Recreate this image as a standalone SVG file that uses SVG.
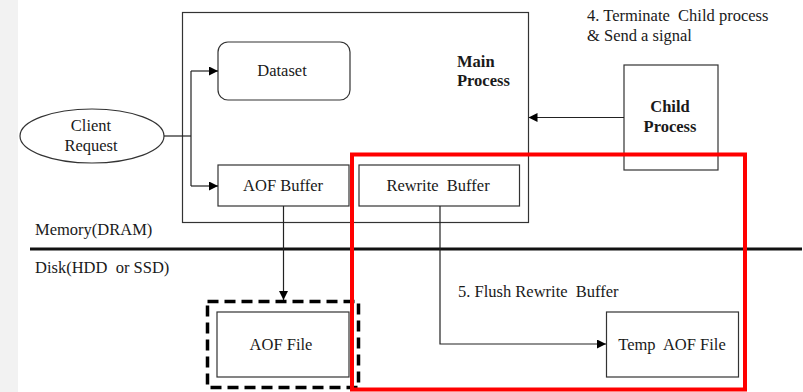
<svg xmlns="http://www.w3.org/2000/svg" width="803" height="392" viewBox="0 0 803 392">
  <defs>
    <marker id="arrow" viewBox="0 0 10 10" refX="10" refY="5" markerWidth="9" markerHeight="9" markerUnits="userSpaceOnUse" orient="auto">
      <path d="M0,0 L10,5 L0,10 z" fill="#000"/>
    </marker>
    <style>
      .box { fill: #fff; stroke: #333; stroke-width: 1.2; }
      .txt { font-family: "Liberation Serif", "Times New Roman", serif; font-size: 16.5px; fill: #1a1a1a; white-space: pre; }
      .bold { font-weight: bold; }
      .mid { text-anchor: middle; }
      .wire { fill: none; stroke: #222; stroke-width: 1.2; }
    </style>
  </defs>

  <rect x="0" y="0" width="803" height="392" fill="#fff"/>
  <!-- paper texture strip on the left -->
  <rect x="0" y="0" width="18" height="392" fill="#f2f2f2"/>

  <!-- memory / disk boundary -->
  <line x1="30" y1="249" x2="802" y2="249" stroke="#111" stroke-width="3"/>
  <text class="txt" x="35" y="235">Memory(DRAM)</text>
  <text class="txt" x="35" y="273" xml:space="preserve">Disk(HDD  or SSD)</text>

  <g id="main-process">
    <rect class="box" x="182.5" y="12.5" width="346" height="210"/>
    <text class="txt bold" x="457" y="67">Main</text>
    <text class="txt bold" x="457" y="86">Process</text>
  </g>

  <g id="dataset">
    <rect class="box" x="218" y="42" width="132" height="58" rx="10" ry="10"/>
    <text class="txt mid" x="282" y="76">Dataset</text>
  </g>

  <g id="client-request">
    <ellipse class="box" cx="92" cy="136" rx="72" ry="27"/>
    <text class="txt mid" x="91" y="131">Client</text>
    <text class="txt mid" x="91" y="151">Request</text>
  </g>

  <g id="aof-buffer">
    <rect class="box" x="218" y="165" width="131" height="41"/>
    <text class="txt mid" x="283" y="191">AOF Buffer</text>
  </g>

  <g id="rewrite-buffer">
    <rect class="box" x="359" y="165" width="160.5" height="41"/>
    <text class="txt mid" x="438" y="191" xml:space="preserve">Rewrite  Buffer</text>
  </g>

  <g id="child-process">
    <rect class="box" x="624" y="65" width="94" height="105"/>
    <text class="txt bold mid" x="670" y="112">Child</text>
    <text class="txt bold mid" x="670" y="132">Process</text>
  </g>

  <g id="aof-file">
    <rect x="207.5" y="301.5" width="151" height="86" fill="none" stroke="#000" stroke-width="3.5" stroke-dasharray="11,6"/>
    <rect class="box" x="217" y="312" width="132" height="65"/>
    <text class="txt mid" x="281" y="350">AOF File</text>
  </g>

  <g id="temp-aof-file">
    <rect class="box" x="606.5" y="312" width="132" height="65"/>
    <text class="txt mid" x="672" y="350" xml:space="preserve">Temp  AOF File</text>
  </g>

  <g id="connectors">
    <path class="wire" d="M164,136 H191"/>
    <path class="wire" d="M191,71 V186"/>
    <path class="wire" d="M191,71 H218" marker-end="url(#arrow)"/>
    <path class="wire" d="M191,186 H218" marker-end="url(#arrow)"/>
    <path class="wire" d="M624,117.5 H528.5" marker-end="url(#arrow)"/>
    <path class="wire" d="M283.5,206 V300" marker-end="url(#arrow)"/>
    <path class="wire" d="M440,206 V344 H606" marker-end="url(#arrow)"/>
  </g>

  <!-- step labels -->
  <text class="txt" x="587" y="21" xml:space="preserve">4. Terminate  Child process</text>
  <text class="txt" x="587" y="41">&amp; Send a signal</text>
  <text class="txt" x="458" y="297" xml:space="preserve">5. Flush Rewrite  Buffer</text>

  <!-- highlight frame -->
  <rect x="352" y="154.5" width="393" height="235" fill="none" stroke="#ff0000" stroke-width="4"/>
</svg>
